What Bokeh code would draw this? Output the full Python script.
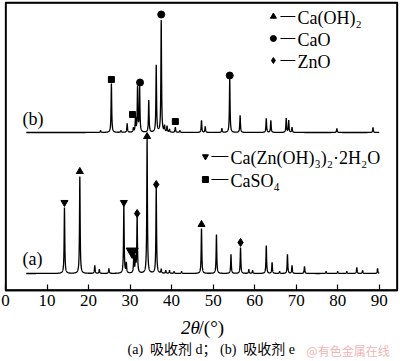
import numpy as np
from bokeh.plotting import figure
from bokeh.layouts import column
from bokeh.models import FixedTicker
from bokeh.core.properties import value
from bokeh.embed import file_html
from bokeh.resources import INLINE

# ---------------- data ----------------
# sample (a): absorbent d -- peak positions (2theta) and heights above its baseline
a_pos = [14.2, 17.9, 21.5, 22.6, 24.9, 28.5, 29.1, 30.9, 31.3, 31.7, 34.1, 36.3,
         37.5, 38.6, 39.5, 40.6, 42.4, 47.2, 50.8, 54.3, 56.6, 58.6, 59.5, 62.8,
         64.2, 66.0, 67.9, 69.0, 72.0, 77.2, 80.0, 82.2, 84.6, 86.0, 89.6]
a_hgt = [66, 97, 8, 4, 5, 68, 10, 18, 15, 57, 135, 86,
         4, 3, 3, 2, 2, 45, 39, 19, 26, 4, 3, 28,
         11, 2, 19, 8, 7, 2, 2, 2, 6, 3, 5]
# sample (b): absorbent e
b_pos = [22.9, 25.5, 27.8, 29.3, 30.8, 31.3, 31.8, 32.3, 34.5, 36.3, 37.5, 38.3,
         38.9, 39.5, 40.9, 42.0, 47.2, 48.1, 52.1, 54.0, 56.5, 62.8, 63.9, 67.6,
         68.2, 69.0, 79.8, 88.5]
b_hgt = [2, 49, 2, 9, 4, 14, 45, 45, 32, 67, 112, 6,
         6, 3, 5, 2, 12, 6, 4, 54, 17, 14, 12, 14,
         12, 5, 4, 5]

a_offset = 17
b_offset = 158

# phase markers: (2theta, intensity above baseline)
a_tri_x = [17.9, 34.1, 47.2];  a_tri_y = [102, 137, 49]          # Ca(OH)2
a_inv_x = [14.2, 28.5];        a_inv_y = [71, 71]                 # Ca(Zn(OH)3)2.2H2O
a_inv_big_x = [30.5];          a_inv_big_y = [22]
a_dia_x = [31.7, 36.3, 56.6];  a_dia_y = [60, 89, 31]             # ZnO
b_sq_x = [25.5, 30.6, 40.9];   b_sq_y = [53, 18, 11]              # CaSO4
b_cir_x = [32.4, 37.5, 54.0];  b_cir_y = [50, 118, 57]            # CaO

ticks = [0, 10, 20, 30, 40, 50, 60, 70, 80, 90]

X_END = 94.4
Y_END = 288


def profile(x, pos, hgt, w=0.09):
    y = np.zeros_like(x)
    for p0, h in zip(pos, hgt):
        y += h / (1.0 + ((x - p0) / w) ** 2)
    return y


x = np.arange(5.0, 90.0001, 0.02)
ya = profile(x, a_pos, a_hgt) + a_offset
yb = profile(x, b_pos, b_hgt) + b_offset

SERIF = value("Liberation Serif")
REF_PX = 4.154  # pixels per degree in the reference (text placement only)


def dx(pix):
    return (pix - 5) / REF_PX


def dy(pix):
    return 290 - pix


p = figure(width=400, height=314, x_range=(0, X_END), y_range=(0, Y_END),
           output_backend="svg", toolbar_location=None,
           min_border_left=5, min_border_right=3, min_border_top=2, min_border_bottom=24)
p.background_fill_color = "white"
p.border_fill_color = "white"
p.outline_line_color = "black"
p.outline_line_width = 1.3
p.grid.visible = False
p.yaxis.visible = False

ax = p.xaxis[0]
ax.ticker = FixedTicker(ticks=ticks)
ax.major_tick_in = 6
ax.major_tick_out = 0
ax.minor_tick_in = 0
ax.minor_tick_out = 0
ax.axis_line_color = "black"
ax.axis_line_width = 1.3
ax.major_tick_line_color = "black"
ax.major_tick_line_width = 1.2
ax.major_label_text_font = "Liberation Serif"
ax.major_label_text_font_size = "17px"
ax.major_label_text_color = "black"
ax.major_label_standoff = 4

# frame box (half of the line lies inside the frame)
p.quad(left=[0], right=[X_END], bottom=[0], top=[Y_END], fill_color=None,
       line_color="black", line_width=2.6)

# curves
p.line(x, ya, line_color="black", line_width=1.3)
p.line(x, yb, line_color="black", line_width=1.3)

# phase markers on peaks
p.scatter(a_tri_x, [v + a_offset for v in a_tri_y], marker="triangle", size=7, color="black")
p.scatter(a_inv_x, [v + a_offset for v in a_inv_y], marker="inverted_triangle", size=7, color="black")
p.scatter(a_inv_big_x, [v + a_offset for v in a_inv_big_y], marker="inverted_triangle", size=12, color="black")
p.scatter(a_dia_x, [v + a_offset for v in a_dia_y], marker="diamond", size=8, color="black")
p.scatter(b_sq_x, [v + b_offset for v in b_sq_y], marker="square", size=6, color="black")
p.scatter(b_cir_x, [v + b_offset for v in b_cir_y], marker="circle", size=7, color="black")

# sample labels
p.text([dx(22)], [dy(118)], text=["(b)"], text_font=SERIF, text_font_size="18px",
       text_baseline="middle", text_align="left", text_color="black")
p.text([dx(22)], [dy(258)], text=["(a)"], text_font=SERIF, text_font_size="18px",
       text_baseline="middle", text_align="left", text_color="black")

# legend (drawn by hand like the original)
leg1 = [("triangle", 16, "Ca(OH)\u2082"), ("circle", 38, "CaO"), ("diamond", 60, "ZnO")]
for mk, yy, txt in leg1:
    p.scatter([dx(273)], [dy(yy)], marker=mk, size=6, color="black")
    p.segment([dx(280)], [dy(yy)], [dx(295)], [dy(yy)], line_color="black", line_width=1.2)
    p.text([dx(297)], [dy(yy + 1)], text=[txt], text_font=SERIF, text_font_size="18px",
           text_baseline="middle", text_align="left", text_color="black")

leg2 = [("inverted_triangle", 156, "Ca(Zn(OH)\u2083)\u2082\u00b72H\u2082O"), ("square", 179, "CaSO\u2084")]
for mk, yy, txt in leg2:
    p.scatter([dx(205)], [dy(yy)], marker=mk, size=6, color="black")
    p.segment([dx(211)], [dy(yy)], [dx(228)], [dy(yy)], line_color="black", line_width=1.2)
    p.text([dx(230)], [dy(yy + 1)], text=[txt], text_font=SERIF, text_font_size="18px",
           text_baseline="middle", text_align="left", text_color="black")

# ---------- caption strip below the chart (axis title + figure caption) ----------
CH = 47
cap = figure(width=400, height=CH, x_range=(0, 400), y_range=(0, CH),
             output_backend="svg", toolbar_location=None,
             min_border_left=0, min_border_right=0, min_border_top=0, min_border_bottom=0)
cap.axis.visible = False
cap.grid.visible = False
cap.outline_line_color = None
cap.background_fill_color = "white"
cap.border_fill_color = "white"

top0 = 314  # page y of the strip's top edge
cap.text([179], [CH - (327 - top0)], text=["2\u03b8"], text_font=SERIF, text_font_size="19px",
         text_font_style="italic", text_baseline="middle", text_align="left", text_color="black")
cap.text([197], [CH - (327 - top0)], text=["/(\u00b0)"], text_font=SERIF, text_font_size="19px",
         text_baseline="middle", text_align="left", text_color="black")
cap.text([210], [CH - (349 - top0)],
         text=["(a)\u00a0\u00a0吸收剂\u00a0d；\u00a0(b)\u00a0\u00a0吸收剂\u00a0e"],
         text_font=value("Liberation Serif, Noto Sans CJK SC"), text_font_size="14px",
         text_baseline="middle", text_align="center", text_color="black")
cap.text([307], [CH - (350 - top0)], text=["@有色金属在线"],
         text_font=value("Noto Sans CJK SC"), text_font_size="12px",
         text_baseline="middle", text_align="left", text_color="#efb5b5")

layout = column(p, cap, spacing=0)
open("out.html", "w").write(file_html(layout, INLINE))
